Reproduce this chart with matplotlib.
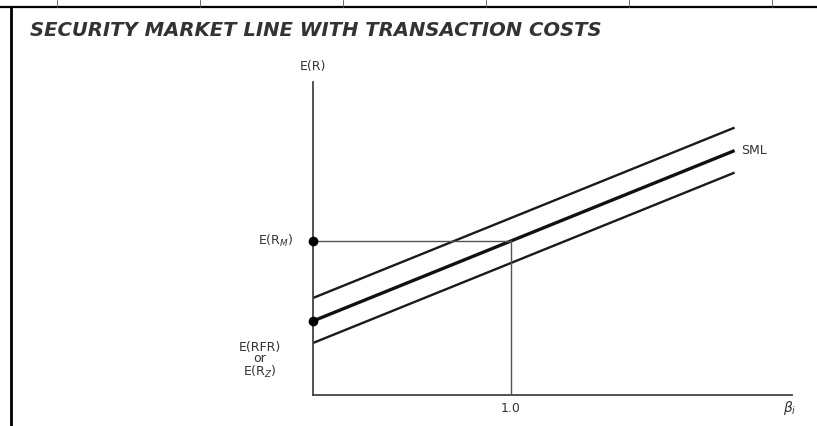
import matplotlib
matplotlib.use("Agg")
import matplotlib.pyplot as plt
from matplotlib.lines import Line2D
import numpy as np

# ---- data ----
title = "SECURITY MARKET LINE WITH TRANSACTION COSTS"
rfr = 7.4          # E(RFR) or E(R_Z)
rm = 15.4          # E(R_M)
beta_m = 1.0
beta_range = [0.0, 2.13]
cost_band = [2.3, -2.2]   # upper / lower transaction-cost bands
x_max, y_max = 2.42, 31.3

W, H = 817, 426
fig = plt.figure(figsize=(W / 100, H / 100), dpi=100)
fig.patch.set_facecolor("white")

# page border lines (scan frame)
fig.add_artist(Line2D([0, 1], [1 - 6.5 / H, 1 - 6.5 / H], color="black", lw=1.6))
fig.add_artist(Line2D([11 / W, 11 / W], [0, 1 - 6.5 / H], color="black", lw=2.0))
for px in [57, 200, 343, 486, 629, 772]:
    fig.add_artist(Line2D([px / W, px / W], [1 - 6.5 / H, 1.0], color="#555555", lw=0.6))

fig.text(30 / W, 1 - 31 / H, title, fontsize=14.1, fontstyle="italic",
         fontweight="bold", color="#333333", va="center", ha="left")

left, right = 313 / W, 792 / W
bottom, top = (H - 395) / H, (H - 82) / H
ax = fig.add_axes([left, bottom, right - left, top - bottom])
ax.set_xlim(0, x_max)
ax.set_ylim(0, y_max)
for s in ["top", "right"]:
    ax.spines[s].set_visible(False)
for s in ["left", "bottom"]:
    ax.spines[s].set_linewidth(1.3)
    ax.spines[s].set_color("#444444")
ax.set_xticks([])
ax.set_yticks([])
ax.patch.set_alpha(0)

b = np.array(beta_range)
sml = rfr + (rm - rfr) / beta_m * b
ax.plot(b, sml, color="#111111", lw=2.4, solid_capstyle="butt")
for off in cost_band:
    ax.plot(b, sml + off, color="#1a1a1a", lw=1.7, solid_capstyle="butt")

# guide lines for market portfolio
ax.plot([0, beta_m], [rm, rm], color="#555555", lw=1.0)
ax.plot([beta_m, beta_m], [0, rm], color="#555555", lw=1.0)

ax.plot([0, 0], [rfr, rm], "o", color="black", ms=6, clip_on=False, zorder=5)

tc = "#333333"
fs = 9
ax.text(0, y_max + 1.5, "E(R)", fontsize=fs, color=tc, ha="center", va="center")
ax.text(-0.1, rm, r"E(R$_M$)", fontsize=fs, color=tc, ha="right", va="center")
ax.text(-0.27, rfr - 2.0, "E(RFR)\nor\n" + r"E(R$_Z$)", fontsize=fs, color=tc,
        ha="center", va="top", linespacing=0.85)
ax.text(beta_m, -1.3, "1.0", fontsize=fs, color=tc, ha="center", va="center")
ax.text(x_max - 0.01, -1.3, r"$\beta_i$", fontsize=fs + 1, color=tc, ha="center", va="center")
ax.text(beta_range[1] + 0.035, sml[-1], "SML", fontsize=fs, color=tc, ha="left", va="center")

fig.savefig("out.png", dpi=100, facecolor="white")
